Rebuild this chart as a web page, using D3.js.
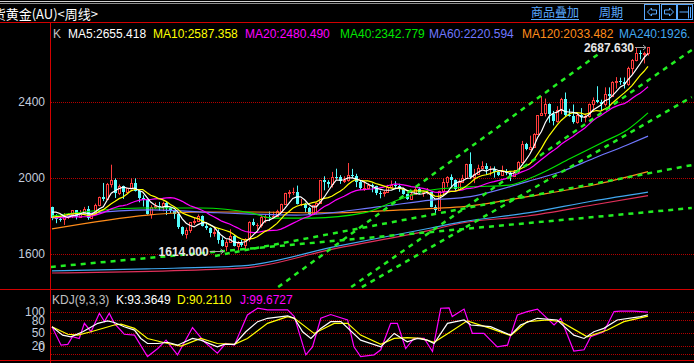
<!DOCTYPE html>
<html>
<head>
<meta charset="utf-8">
<script src="https://cdn.jsdelivr.net/npm/d3@7"></script>
<style>
html, body { margin: 0; padding: 0; background: #000; overflow: hidden; }
svg { display: block; font-family: "Liberation Sans", Arial, sans-serif; }
</style>
</head>
<body>
<div id="chart"></div>
<script>
// weekly candles, first one is the week of 2021-11-22, last one 2024-10-14
var opens = [1846,1795,1783,1784,1798,1811,
  1829,1797,1817,1835,1791,1808,1859,1898,1889,1967,1988,1921,1958,1925,1945,1974,1932,1896,1883,1811,1846,1853,1851,1871,1840,1827,
  1811,1742,1703,1727,1766,1775,1802,1747,1738,1712,1716,1675,1644,1661,1695,1644,1657,1645,1681,1771,1751,1755,1797,1797,1793,1798,
  1824,1865,1920,1926,1928,1865,1865,1842,1811,1856,1868,1988,1978,1969,2007,2004,1983,1990,2017,2011,1977,1946,1948,1961,1958,1921,
  1919,1925,1955,1962,1959,1943,1914,1889,1914,1940,1919,1924,1925,1848,1832,1932,1981,2006,1992,1940,1981,2002,2072,2004,2019,2053,
  2063,2045,2049,2029,2018,2039,2024,2013,2035,2083,2179,2155,2165,2230,2329,2344,2392,2337,2301,2360,2415,2334,2327,2293,2333,2321,
  2326,2391,2411,2400,2387,2443,2431,2507,2512,2503,2497,2577,2622,2658,2653,2657];
var highs = [1849,1809,1793,1815,1815,1830,
  1831,1831,1848,1853,1815,1865,1902,1974,1974,2070,1998,1966,1960,1949,1998,1998,1936,1909,1884,1857,1870,1874,1876,1879,1847,1830,
  1814,1745,1739,1767,1794,1808,1803,1765,1740,1735,1730,1688,1677,1730,1700,1668,1675,1683,1772,1786,1762,1804,1810,1824,1823,1833,
  1865,1922,1937,1949,1960,1890,1870,1848,1858,1871,1989,2009,1988,2032,2049,2015,2009,2079,2048,2022,1985,1983,1972,1971,1959,1933,
  1935,1964,1987,1983,1970,1948,1918,1924,1953,1953,1933,1947,1928,1859,1933,1997,2009,2019,1993,1993,2017,2075,2135,2048,2070,2088,
  2078,2062,2061,2036,2065,2047,2032,2041,2088,2195,2185,2223,2236,2330,2431,2418,2393,2353,2378,2422,2450,2364,2387,2342,2368,2338,
  2392,2424,2483,2412,2477,2477,2509,2531,2528,2529,2586,2626,2686,2672,2665,2687.63];
var lows = [1778,1762,1770,1753,1785,1789,
  1782,1790,1805,1780,1787,1806,1851,1878,1889,1950,1895,1910,1890,1915,1940,1929,1872,1850,1807,1786,1838,1828,1825,1805,1816,1785,
  1732,1697,1681,1711,1754,1771,1745,1727,1688,1691,1654,1639,1614,1660,1640,1617,1638,1617,1665,1747,1727,1739,1764,1773,1784,1795,
  1823,1861,1896,1911,1861,1852,1819,1805,1804,1809,1867,1935,1949,1950,1992,1969,1974,1981,2000,1952,1937,1932,1940,1925,1910,1893,
  1902,1922,1951,1942,1927,1912,1885,1884,1913,1915,1901,1913,1846,1810,1828,1908,1953,1953,1931,1932,1977,1999,1994,1973,2016,2048,
  2017,2013,2002,2010,2016,2015,1984,2011,2025,2078,2146,2146,2163,2228,2326,2324,2291,2277,2291,2336,2325,2323,2286,2286,2295,2293,
  2318,2353,2394,2353,2376,2364,2430,2470,2490,2471,2485,2547,2614,2624,2603,2644];
var closes = [1788,1783,1782,1798,1811,1829,
  1797,1817,1835,1791,1808,1859,1898,1889,1966,1988,1921,1958,1925,1945,1974,1932,1896,1883,1811,1846,1853,1851,1871,1840,1827,1811,
  1742,1703,1727,1766,1775,1802,1747,1738,1712,1716,1675,1644,1661,1695,1644,1657,1645,1681,1771,1751,1755,1797,1797,1793,1798,1824,
  1865,1920,1926,1928,1865,1865,1842,1811,1856,1868,1988,1978,1969,2007,2004,1983,1990,2017,2011,1977,1946,1948,1961,1958,1921,1919,
  1925,1955,1962,1959,1943,1914,1889,1914,1940,1919,1924,1925,1848,1832,1932,1981,2006,1992,1940,1981,2002,2072,2004,2019,2053,2063,
  2045,2049,2029,2018,2039,2024,2013,2035,2083,2179,2155,2165,2230,2329,2344,2392,2337,2301,2360,2415,2334,2327,2293,2333,2321,2326,
  2391,2411,2400,2387,2443,2431,2507,2512,2503,2497,2577,2622,2658,2653,2657,2687];
// the 19 weekly closes before the first candle (needed for MA5/10/20)
var priorCloses = [1815,1802,1814,1763,1780,1781,1818,1827,1787,1754,1750,1761,1757,1767,1792,1783,1818,1868,1846];

// longer averages: week index -> value
var ma40Week = [0,22.5,37.7,50.4,56,66,79,87.6,96,106,116,123,131.4,139.8,145.7,151];
var ma40Val  = [1800,1842,1842,1816,1789,1789,1816,1884,1937,1953,1963,2016,2104,2191,2253,2342.8];
var ma60Week = [0,8,25,42,50.4,62,83,96,106,120.4,128.9,137.3,145.7,151];
var ma60Val  = [1788,1810,1832,1817,1810,1805,1849,1884,1902,1981,2033,2104,2174,2220.6];
var ma120Week = [0,24.3,37.7,50.4,70.6,88.4,106,120.5,137.2,151];
var ma120Val  = [1732,1805,1821,1821,1816,1832,1853,1902,1963,2033.5];
var ma240Week = [0,24,48,72,96,103.5,120.5,137,151];
var ma240Val  = [1511,1522,1537,1640,1737,1768,1816,1879,1926];
var ma250Week = [0,48,72,96,103.5,120.5,137,151];
var ma250Val  = [1500,1526,1630,1726,1762,1800,1858,1907];

// hand drawn trend lines: [startWeek, startPrice, endWeek, endPrice]
var trendLines = [
  [57.3, 1426, 138.8, 2658],
  [75.8, 1426, 162.1, 2674],
  [78.5, 1426, 162.1, 2426],
  [41.3, 1590, 162.1, 2068],
  [-0.3, 1532, 162.1, 1842]
];

// KDJ(9,3,3)
var kWeek = [0,2.7,4.8,7.8,11.6,14.1,15.8,18.3,20.9,22.5,24.2,26.8,29.3,31.8,35.6,37.7,41.9,43.6,46.2,49.1,52.1,54.6,59.7,61.4,63.5,65.6,68.1,70.6,73.2,78.2,83.3,86.7,90,92.6,95.1,96.8,100.2,104.4,106.1,111.1,116.2,118.7,123,128,132.2,134.8,137.3,139.8,143.2,149.1,151];
var kVal  = [65,45,41,53,73,79,75,65,57,37,25,25,28,21,37,33,17,23,23,53,77,85,91,85,53,37,61,77,77,33,17,49,29,37,33,25,73,81,69,65,45,69,85,81,45,37,53,61,81,89,93.4];
var dWeek = [0,4,6.5,9.9,15.8,17.5,20.9,24.2,29.3,32.7,37.7,41.9,46.2,49.5,54.6,59.7,61.4,66.4,71.5,74.9,78.2,83.3,86.7,90,93.4,96.8,101,105.2,111.1,116.2,120.4,125.5,128.9,135.6,140.7,144.9,151];
var dVal  = [65,47,45,53,69,71,61,37,25,19,37,25,23,37,73,89,85,49,73,73,45,23,37,39,37,28,53,79,61,44,77,81,77,41,57,77,90.2];
var jWeek = [0,2.3,4,5.2,6.9,8.2,9.9,12,13.3,14.5,15.8,18.3,20.9,24.2,26.8,28.9,31.8,35.6,38.6,41.9,44,46.2,49.5,52.1,54.6,59.7,61.4,64.3,66,68.1,70.6,74.9,76.5,78.2,81.6,83.3,85.8,87.5,89.6,91.7,94.3,96.4,98.5,100.6,101.4,104.4,106.5,109.4,112.8,115.4,117.9,120.4,123,127.2,128.9,132.2,134.8,136.5,139.8,142.4,144,147.4,151];
var jVal  = [65,21,23,41,37,73,53,97,77,97,73,47,45,-6,13,33,-2,63,29,2,25,21,93,109,105,105,89,-2,17,85,94,81,17,-6,-2,10,73,73,13,37,37,6,109,110,89,107,49,49,17,21,93,101,107,69,85,7,10,41,53,101,102,102,99.7];

var priceTicks = [1600, 2000, 2400];
var kdjTicks = [100, 80, 50, 20, 0];
var kdjTickLabels = ['100', '80', '50', '20', '0'];

var maLegend = [
  {text: 'MA5:2655.418', color: '#ffffff', x: 68},
  {text: 'MA10:2587.358', color: '#ffff00', x: 153},
  {text: 'MA20:2480.490', color: '#ff00ff', x: 245},
  {text: 'MA40:2342.779', color: '#00e600', x: 340},
  {text: 'MA60:2220.594', color: '#7078ff', x: 429},
  {text: 'MA120:2033.482', color: '#ff8c1a', x: 522},
  {text: 'MA240:1926.', color: '#40a8f0', x: 619}
];

var W = 694, H = 363;
var left = 51, right = 694;
var mainTop = 23, mainBottom = 289, kdjBottom = 360;

var svg = d3.select('#chart').append('svg')
  .attr('width', W)
  .attr('height', H);

svg.append('rect').attr('width', W).attr('height', H).attr('fill', '#000');

var defs = svg.append('defs');
defs.append('clipPath').attr('id', 'clip-main')
  .append('rect').attr('x', left).attr('y', mainTop).attr('width', right - left).attr('height', mainBottom - mainTop);
defs.append('clipPath').attr('id', 'clip-kdj')
  .append('rect').attr('x', left).attr('y', mainBottom + 1).attr('width', right - left).attr('height', kdjBottom - mainBottom - 1);

var x = d3.scaleLinear().domain([0, closes.length - 1]).range([52, 648]);
var y = d3.scaleLinear().domain([1600, 2400]).range([254, 102]);
var yk = d3.scaleLinear().domain([0, 100]).range([354, 312]);

// ---- top bar ----
svg.append('rect').attr('x', 0).attr('y', 1).attr('width', W).attr('height', 1).attr('fill', '#d0d0d0');
svg.append('rect').attr('x', 0).attr('y', 3).attr('width', W).attr('height', 1).attr('fill', '#8c8c8c');

svg.append('text')
  .attr('x', 98).attr('y', 19)
  .attr('text-anchor', 'end')
  .attr('fill', '#ffffff')
  .style('font-family', '"Noto Sans CJK SC", sans-serif')
  .style('font-size', '13px')
  .text('期货黄金(AU)<周线>');

var linkColor = '#5aaaff';
[{t: '商品叠加', x: 531, w: 48}, {t: '周期', x: 599, w: 24}].forEach(function(d) {
  svg.append('text')
    .attr('x', d.x).attr('y', 17)
    .attr('fill', linkColor)
    .style('font-family', '"Noto Sans CJK SC", sans-serif')
    .style('font-size', '12px')
    .text(d.t);
  svg.append('line')
    .attr('x1', d.x).attr('x2', d.x + d.w)
    .attr('y1', 19.5).attr('y2', 19.5)
    .attr('stroke', linkColor).attr('stroke-width', 1);
});

// the three small buttons at the top right
var btn = svg.append('g').attr('fill', 'none').attr('stroke', linkColor).attr('stroke-width', 1);
[644.5, 661.5, 677.5].forEach(function(bx) {
  btn.append('rect').attr('x', bx).attr('y', 4.5).attr('width', 15).attr('height', 15);
});
btn.append('path').attr('d', 'M647.5,12 L651.5,8 L651.5,10 L656.5,10 L656.5,14 L651.5,14 L651.5,16 Z');
btn.append('path').attr('d', 'M673.5,12 L669.5,8 L669.5,10 L664.5,10 L664.5,14 L669.5,14 L669.5,16 Z');
btn.append('path').attr('d', 'M679.5,12 L688.5,12 M688.5,6.5 L688.5,18.5 M690.5,7 L690.5,18');

// ---- frame and grid ----
var gridColor = '#b40000', frameColor = '#d20000';

svg.append('g').selectAll('line.pgrid')
  .data(priceTicks)
  .enter().append('line')
  .attr('x1', left).attr('x2', right)
  .attr('y1', d => Math.round(y(d)) + 0.5).attr('y2', d => Math.round(y(d)) + 0.5)
  .attr('stroke', gridColor).attr('stroke-dasharray', '1,1');

svg.append('g').selectAll('line.kgrid')
  .data(kdjTicks)
  .enter().append('line')
  .attr('x1', left).attr('x2', right)
  .attr('y1', d => Math.round(yk(d)) + 0.5).attr('y2', d => Math.round(yk(d)) + 0.5)
  .attr('stroke', gridColor).attr('stroke-dasharray', '1,1');

svg.append('line').attr('x1', 0).attr('x2', W).attr('y1', 22.5).attr('y2', 22.5).attr('stroke', frameColor);
svg.append('line').attr('x1', 0).attr('x2', W).attr('y1', mainBottom + 0.5).attr('y2', mainBottom + 0.5).attr('stroke', frameColor);
svg.append('line').attr('x1', 0).attr('x2', W).attr('y1', kdjBottom + 0.5).attr('y2', kdjBottom + 0.5).attr('stroke', frameColor);
svg.append('line').attr('x1', 50.5).attr('x2', 50.5).attr('y1', 22).attr('y2', H).attr('stroke', frameColor);

// axis labels
var labelColor = '#c4ccdc';
var priceAxis = d3.axisLeft(y).tickValues(priceTicks).tickSize(0).tickPadding(0).tickFormat(d3.format('d'));
var pa = svg.append('g').attr('transform', 'translate(45,0)').call(priceAxis);
pa.select('.domain').remove();
pa.selectAll('text').attr('fill', labelColor).style('font-size', '12px').style('font-family', '"Liberation Sans", Arial, sans-serif');

var kdjAxis = d3.axisLeft(yk).tickValues(kdjTicks).tickSize(0).tickPadding(0)
  .tickFormat((d, i) => kdjTickLabels[i]);
var ka = svg.append('g').attr('transform', 'translate(45,0)').call(kdjAxis);
ka.select('.domain').remove();
ka.selectAll('text').attr('fill', labelColor).style('font-size', '12px').style('font-family', '"Liberation Sans", Arial, sans-serif');
// the 0 label sits squeezed against the bottom like in the terminal
ka.selectAll('.tick').filter(d => d === 0).attr('transform', 'translate(0,' + (yk(20) + 3) + ')');

// ---- legend row ----
var legend = svg.append('g').style('font-size', '12px');
legend.append('text').attr('x', 53).attr('y', 38).attr('fill', '#c0c0c0').text('K');
legend.selectAll('text.ma')
  .data(maLegend)
  .enter().append('text')
  .attr('class', 'ma')
  .attr('x', d => d.x).attr('y', 38)
  .attr('fill', d => d.color)
  .text(d => d.text);

// ---- candles ----
var upColor = '#ff3c3c', downColor = '#54fcfc';
var candleData = closes.map(function(c, i) {
  return {i: i, o: opens[i], h: highs[i], l: lows[i], c: c};
});

var main = svg.append('g').attr('clip-path', 'url(#clip-main)');

var candle = main.append('g').selectAll('g')
  .data(candleData)
  .enter().append('g');

candle.append('line')
  .attr('x1', d => Math.round(x(d.i)) + 0.5)
  .attr('x2', d => Math.round(x(d.i)) + 0.5)
  .attr('y1', d => y(d.h))
  .attr('y2', d => y(d.l))
  .attr('stroke', d => d.c >= d.o ? upColor : downColor);

candle.append('rect')
  .attr('x', d => d.c >= d.o ? Math.round(x(d.i)) - 0.5 : Math.round(x(d.i)) - 1)
  .attr('width', d => d.c >= d.o ? 2 : 3)
  .attr('y', d => d.c >= d.o ? Math.round(y(d.c)) + 0.5 : Math.round(y(d.o)))
  .attr('height', function(d) {
    var h = Math.abs(Math.round(y(d.c)) - Math.round(y(d.o)));
    return d.c >= d.o ? Math.max(h, 0.01) : Math.max(h, 1);
  })
  .attr('fill', d => d.c >= d.o ? '#000' : downColor)
  .attr('stroke', d => d.c >= d.o ? upColor : 'none')
  .attr('stroke-width', 1);

// ---- moving averages ----
var allCloses = priorCloses.concat(closes);
function movingAverage(n) {
  return closes.map(function(c, i) {
    var j = i + priorCloses.length;
    return d3.mean(allCloses.slice(j - n + 1, j + 1));
  });
}

var lineByIndex = d3.line().x((d, i) => x(i)).y(d => y(d));
var lineSampled = d3.line().x(d => x(d[0])).y(d => y(d[1])).curve(d3.curveMonotoneX);

function sampled(weeks, vals) { return weeks.map((w, i) => [w, vals[i]]); }

var maLines = main.append('g').attr('fill', 'none').attr('stroke-width', 1.2);
maLines.append('path').datum(sampled(ma250Week, ma250Val)).attr('d', lineSampled).attr('stroke', '#e0305a');
maLines.append('path').datum(sampled(ma240Week, ma240Val)).attr('d', lineSampled).attr('stroke', '#40a8f0');
maLines.append('path').datum(sampled(ma120Week, ma120Val)).attr('d', lineSampled).attr('stroke', '#ff8c1a');
maLines.append('path').datum(sampled(ma60Week, ma60Val)).attr('d', lineSampled).attr('stroke', '#7078ff');
maLines.append('path').datum(sampled(ma40Week, ma40Val)).attr('d', lineSampled).attr('stroke', '#00e600');
maLines.append('path').datum(movingAverage(20)).attr('d', lineByIndex).attr('stroke', '#ff00ff');
maLines.append('path').datum(movingAverage(10)).attr('d', lineByIndex).attr('stroke', '#ffff00');
maLines.append('path').datum(movingAverage(5)).attr('d', lineByIndex).attr('stroke', '#ffffff');

// ---- trend lines ----
main.append('g').selectAll('line')
  .data(trendLines)
  .enter().append('line')
  .attr('x1', d => x(d[0])).attr('y1', d => y(d[1]))
  .attr('x2', d => x(d[2])).attr('y2', d => y(d[3]))
  .attr('stroke', '#22ee22')
  .attr('stroke-width', 2.5)
  .attr('stroke-dasharray', '5,5');

// ---- high / low markers ----
var hiIdx = d3.maxIndex(highs), loIdx = d3.minIndex(lows);
function marker(idx, price, gap) {
  var cx = x(idx), cy = Math.round(y(price));
  var g = svg.append('g');
  g.append('line')
    .attr('x1', cx - gap + 1).attr('x2', cx - 2)
    .attr('y1', cy + 0.5).attr('y2', cy + 0.5)
    .attr('stroke', '#a8a8a8');
  g.append('path')
    .attr('d', 'M' + (cx - 2) + ',' + (cy + 0.5) + ' l-3,-2.5 M' + (cx - 2) + ',' + (cy + 0.5) + ' l-3,2.5')
    .attr('stroke', '#a8a8a8').attr('fill', 'none');
  g.append('text')
    .attr('x', cx - gap).attr('y', cy + 4.5)
    .attr('text-anchor', 'end')
    .attr('fill', '#e6e6e6')
    .style('font-size', '12px').style('font-weight', 'bold')
    .text(d3.format('.3f')(price));
}
marker(hiIdx, highs[hiIdx], 14);
marker(loIdx, lows[loIdx], 17);

// ---- KDJ panel ----
var kdj = svg.append('g').attr('clip-path', 'url(#clip-kdj)').attr('fill', 'none').attr('stroke-width', 1.2);
var kdjLine = d3.line().x(d => x(d[0])).y(d => yk(d[1]));
kdj.append('path').datum(sampled(jWeek, jVal)).attr('d', kdjLine).attr('stroke', '#ff00ff');
kdj.append('path').datum(sampled(dWeek, dVal)).attr('d', kdjLine).attr('stroke', '#ffff00');
kdj.append('path').datum(sampled(kWeek, kVal)).attr('d', kdjLine).attr('stroke', '#ffffff');

var kdjLegend = svg.append('g').style('font-size', '12px');
kdjLegend.append('text').attr('x', 52).attr('y', 304).attr('fill', '#c0c0c0').text('KDJ(9,3,3)');
kdjLegend.append('text').attr('x', 116).attr('y', 304).attr('fill', '#ffffff').text('K:93.3649');
kdjLegend.append('text').attr('x', 177).attr('y', 304).attr('fill', '#ffff00').text('D:90.2110');
kdjLegend.append('text').attr('x', 240).attr('y', 304).attr('fill', '#ff00ff').text('J:99.6727');
</script>
</body>
</html>
